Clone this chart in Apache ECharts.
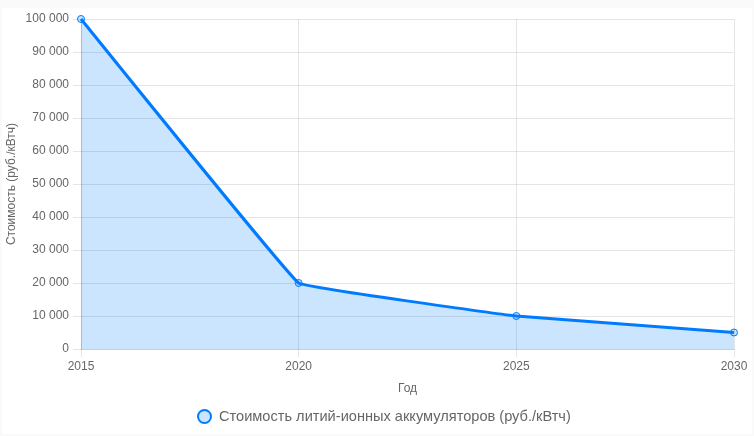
<!DOCTYPE html>
<html>
<head>
<meta charset="utf-8">
<script src="https://cdn.jsdelivr.net/npm/echarts@6/dist/echarts.min.js"></script>
<style>
html,body{margin:0;padding:0;background:#fafafa;width:754px;height:436px;overflow:hidden;}
#c{position:absolute;left:2px;top:8px;width:750px;height:426px;background:#fff;}
</style>
</head>
<body>
<div id="c"></div>
<script>
const years = ['2015', '2020', '2025', '2030'];
const costs = [100000, 20000, 10000, 5000];
const seriesName = 'Стоимость литий-ионных аккумуляторов (руб./кВтч)';
const xName = 'Год';
const yName = 'Стоимость (руб./кВтч)';

function fmt(v){ return String(v).replace(/\B(?=(\d{3})+(?!\d))/g, ' '); }

const chart = echarts.init(document.getElementById('c'));
const gridColor = 'rgba(0,0,0,0.1)';
chart.setOption({
  backgroundColor: '#fff',
  textStyle: { fontFamily: 'Arial, Liberation Sans, sans-serif' },
  animation: false,
  grid: { left: 79, right: 18, top: 11, bottom: 85, containLabel: false, outerBoundsMode: 'none' },
  legend: {
    top: 396, left: 190,
    icon: 'circle', itemWidth: 13, itemHeight: 13, itemGap: 10,
    textStyle: { color: '#666', fontSize: 14.6, padding: [0, 0, 0, 3] },
    data: [seriesName]
  },
  xAxis: {
    type: 'category', data: years, boundaryGap: false,
    name: xName, nameLocation: 'middle', nameGap: 34,
    nameTextStyle: { color: '#666', fontSize: 12 },
    axisLine: { show: true, lineStyle: { color: gridColor } },
    axisTick: { show: true, length: 8, lineStyle: { color: gridColor } },
    axisLabel: { color: '#666', fontSize: 12, margin: 12, showMaxLabel: true, showMinLabel: true },
    splitLine: { show: true, lineStyle: { color: gridColor } }
  },
  yAxis: {
    type: 'value', min: 0, max: 100000, interval: 10000,
    name: yName, nameLocation: 'middle', nameGap: 63, nameMoveOverlap: false,
    nameTextStyle: { color: '#666', fontSize: 12 },
    axisLine: { show: true, lineStyle: { color: gridColor } },
    axisTick: { show: true, length: 8, lineStyle: { color: gridColor } },
    axisLabel: { color: '#666', fontSize: 12, margin: 12, formatter: fmt },
    splitLine: { show: true, lineStyle: { color: gridColor } }
  },
  series: [{
    name: seriesName, type: 'line', data: costs,
    smooth: 0.04,
    symbol: 'circle', symbolSize: 7,
    lineStyle: { color: '#007bff', width: 3 },
    itemStyle: { color: 'rgba(0,123,255,0.2)', borderColor: '#007bff', borderWidth: 1 },
    areaStyle: { color: 'rgba(0,123,255,0.2)', opacity: 1, origin: 'start' }
  }]
});
</script>
</body>
</html>
